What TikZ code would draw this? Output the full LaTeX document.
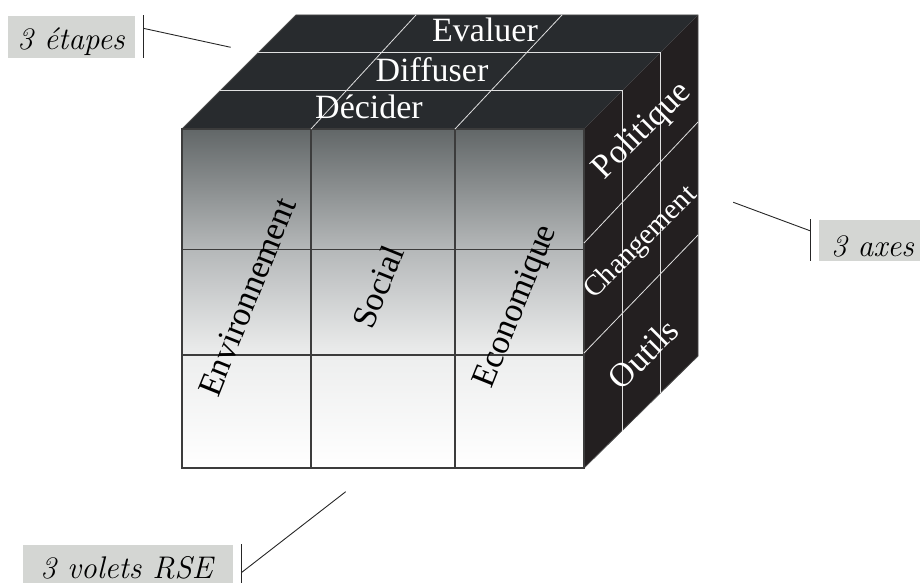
\documentclass[tikz,border=0pt]{standalone}
\usepackage{fontspec}
\setmainfont{Liberation Serif}
\usetikzlibrary{calc}
\definecolor{topc}{RGB}{40,43,46}
\definecolor{sidec}{RGB}{35,31,32}
\definecolor{fcA}{RGB}{237,238,238}
\definecolor{fcB}{RGB}{180,183,184}
\definecolor{fcC}{RGB}{98,103,104}
\definecolor{boxc}{RGB}{212,214,211}
\definecolor{gridc}{RGB}{60,60,60}
\pgfdeclareverticalshading{frontsh}{100bp}{color(0bp)=(white); color(25bp)=(white); color(41.5bp)=(fcA); color(57.5bp)=(fcB); color(75bp)=(fcC); color(100bp)=(fcC)}
\tikzset{
 faceline/.style={draw=gray!60!black, line width=0.8pt},
 wline/.style={draw=white!88!black, line width=1pt},
 wdiag/.style={draw=white!88!black, line width=0.8pt},
 gridline/.style={draw=gridc, line width=1.1pt},
 lead/.style={draw=black!85, line width=0.9pt},
 toplbl/.style={text=white, font=\fontsize{34}{40}\selectfont, anchor=base, inner sep=0},
 frontlbl/.style={text=black, font=\fontsize{34}{40}\selectfont, rotate=68, inner sep=0},
 sidelbl/.style={text=white, font=\fontsize{34}{40}\selectfont, rotate=45, inner sep=0},
 tagbox/.style={fill=boxc, draw=none, inner sep=0, anchor=north west},
 tagtext/.style={font=\fontfamily{lmr}\fontsize{31.3}{37}\selectfont\itshape, anchor=base, inner sep=0},
}
\begin{document}
\begin{tikzpicture}[x=1pt,y=-1pt]
\useasboundingbox (0,0) rectangle (920,583);
% cube corners
\coordinate (F1) at (182,129);
\coordinate (F2) at (584,129);
\coordinate (F3) at (584,468);
\coordinate (F4) at (182,468);
\coordinate (B1) at (296,15);
\coordinate (B2) at (698,15);
\coordinate (B3) at (698,356);
% faces
\fill[topc] (F1) -- (B1) -- (B2) -- (F2) -- cycle;
\fill[sidec] (F2) -- (B2) -- (B3) -- (F3) -- cycle;
\draw[faceline] (F1) -- (B1) -- (B2) -- (B3) -- (F3);
\shade[shading=frontsh] (F1) rectangle (F3);
% front grid
\coordinate (V1t) at (311,129); \coordinate (V1b) at (311,468);
\coordinate (V2t) at (455,129); \coordinate (V2b) at (455,468);
\coordinate (H1l) at (182,249.5); \coordinate (H1r) at (584,249.5);
\coordinate (H2l) at (182,355); \coordinate (H2r) at (584,355);
\draw[gridline] (V1t) -- (V1b);
\draw[gridline] (V2t) -- (V2b);
\draw[gridline] (H1l) -- (H1r);
\draw[gridline] (H2l) -- (H2r);
\draw[gridline] (F1) rectangle (F3);
% layer lines (top + right)
\coordinate (L1a) at (220,91); \coordinate (L1b) at (622,91); \coordinate (L1c) at (622,431);
\coordinate (L2a) at (258,53); \coordinate (L2b) at (660,53); \coordinate (L2c) at (660,393);
\draw[wline] (L1a) -- (L1b) -- (L1c);
\draw[wline] (L2a) -- (L2b) -- (L2c);
% top diagonals
\coordinate (T1b) at (416,15); \coordinate (T2b) at (562,15);
\draw[wdiag] (V1t) -- (T1b);
\draw[wdiag] (V2t) -- (T2b);
% right diagonals
\coordinate (R1a) at (584,243); \coordinate (R1b) at (698,122);
\coordinate (R2a) at (584,353); \coordinate (R2b) at (698,235);
\draw[wdiag] (R1a) -- (R1b);
\draw[wdiag] (R2a) -- (R2b);
% top labels
\node[toplbl] (dec) at (369,119) {Décider};
\node[toplbl] (dif) at (432,82) {Diffuser};
\node[toplbl] (eva) at (485,42) {Evaluer};
% front labels
\node[frontlbl] (env) at (247,297) {Environnement};
\node[frontlbl] (soc) at (378,287) {Social};
\node[frontlbl] (eco) at (517,307) {Economique};
% side labels
\node[sidelbl] (pol) at (642.5,131) {Politique};
\node[sidelbl, font=\fontsize{29}{34}\selectfont] (cha) at (641,243) {Changement};
\node[sidelbl] (out) at (643,354) {Outils};
% tag: 3 etapes
\node[tagbox, minimum width=127pt, minimum height=42pt] (tA) at (8,16) {};
\node[tagtext] (tAt) at (71,50) {3 étapes};
\coordinate (tAk1) at (143.3,15.5); \coordinate (tAk2) at (143.3,58.3);
\coordinate (tAp) at (143.3,28.3); \coordinate (tAe) at (230.7,47.3);
\draw[lead] (tAk1) -- (tAk2);
\draw[lead] (tAp) -- (tAe);
% tag: 3 axes
\node[tagbox, minimum width=101pt, minimum height=41.7pt] (tB) at (819,219.3) {};
\node[tagtext] (tBt) at (872.5,256) {3 axes};
\coordinate (tBk1) at (810.7,219.3); \coordinate (tBk2) at (810.7,261);
\coordinate (tBp) at (810.7,231); \coordinate (tBe) at (733.3,202.3);
\draw[lead] (tBk1) -- (tBk2);
\draw[lead] (tBp) -- (tBe);
% tag: 3 volets RSE
\node[tagbox, minimum width=210pt, minimum height=38.7pt] (tC) at (23,544.3) {};
\node[tagtext] (tCt) at (126.5,578) {3 volets RSE};
\coordinate (tCk1) at (241.3,544.3); \coordinate (tCk2) at (241.3,583);
\coordinate (tCp) at (241.3,572.7); \coordinate (tCe) at (345.7,491.7);
\draw[lead] (tCk1) -- (tCk2);
\draw[lead] (tCp) -- (tCe);
\end{tikzpicture}
\end{document}
